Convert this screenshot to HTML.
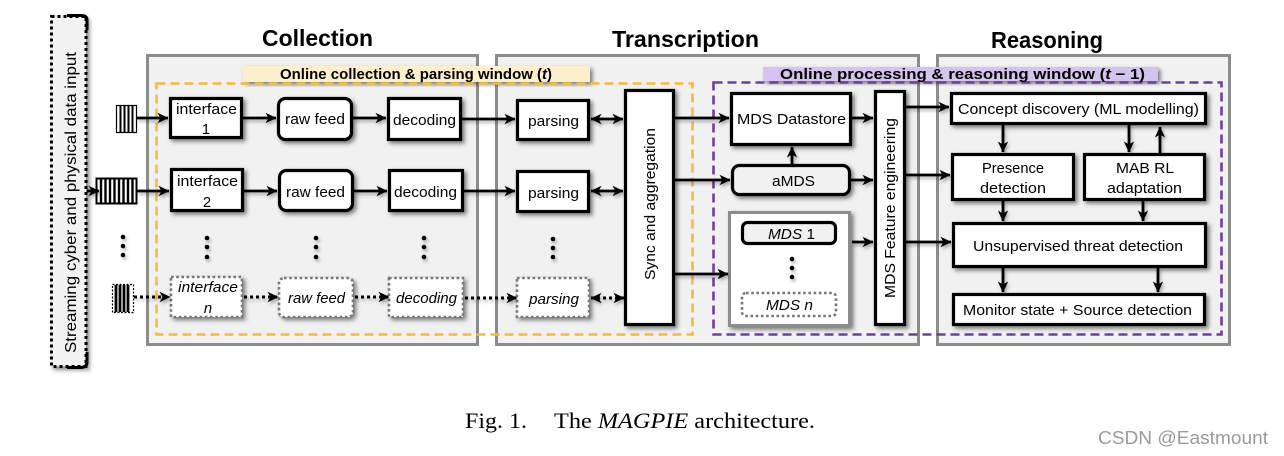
<!DOCTYPE html>
<html><head><meta charset="utf-8"><style>
html,body{margin:0;padding:0;background:#fff}
svg{display:block;filter:blur(.35px)}
text{font-family:"Liberation Sans",sans-serif;fill:#000;font-size:14.8px}
.i{font-style:italic}
.b{fill:#fff;stroke:#000;stroke-width:3.2}
.d{fill:#fff;stroke:#777;stroke-width:2.6;stroke-dasharray:2.6 2.6}
.p{fill:#f1f1f1;stroke:#8c8c8c;stroke-width:3}
.a{stroke:#000;stroke-width:2.8;fill:none;marker-end:url(#h)}
.a2{stroke:#000;stroke-width:2.8;fill:none;marker-end:url(#h);marker-start:url(#h)}
.o{stroke:#000;stroke-width:3;stroke-dasharray:3 3;fill:none;marker-end:url(#h)}
.o2{stroke:#000;stroke-width:3;stroke-dasharray:3 3;fill:none;marker-end:url(#h);marker-start:url(#h)}
.s{filter:url(#sh)}
.s2{filter:url(#sh2)}
.t{font-weight:bold;font-size:23px}
.w{font-weight:bold;font-size:14.5px}
</style></head><body>
<svg xmlns="http://www.w3.org/2000/svg" width="1284" height="456" viewBox="0 0 1284 456">
<defs>
<filter id="sh" x="-20%" y="-20%" width="150%" height="150%"><feDropShadow dx="2.500" dy="2.500" stdDeviation="2" flood-color="#000" flood-opacity=".5"/></filter>
<filter id="sh2" x="-5%" y="-5%" width="110%" height="110%"><feDropShadow dx="1.500" dy="2.500" stdDeviation="1.500" flood-color="#000" flood-opacity=".3"/></filter>
<marker id="h" markerUnits="userSpaceOnUse" markerWidth="14" markerHeight="14" refX="11" refY="7" orient="auto-start-reverse"><path d="M0.500 1.800 L11.500 7 L0.500 12.200 L3.500 7 Z" fill="#000"/></marker>
</defs>
<rect width="1284" height="456" fill="#fff"/>

<!-- stream box -->
<rect x="51.500" y="16.500" width="34.500" height="350" fill="#f2f2f2" stroke="#000" stroke-width="3" stroke-dasharray="3 3" class="s"/>
<path d="M67 15.500H81Q87 15.500 87 20V30M67 367.500H81Q87 367 87 362V352" fill="none" stroke="#000" stroke-width="3"/>
<text transform="translate(76 353) rotate(-90)" textLength="301" lengthAdjust="spacingAndGlyphs" style="font-size:16px">Streaming cyber and physical data input</text>

<!-- panels -->
<rect class="p" x="147.500" y="55.500" width="330" height="289"/>
<rect class="p" x="496.500" y="55.500" width="422" height="289"/>
<rect class="p" x="937.500" y="55.500" width="292" height="289"/>

<text class="t" x="262" y="46" textLength="111" lengthAdjust="spacingAndGlyphs">Collection</text>
<text class="t" x="612" y="47" textLength="147" lengthAdjust="spacingAndGlyphs">Transcription</text>
<text class="t" x="991" y="48" textLength="112" lengthAdjust="spacingAndGlyphs">Reasoning</text>

<!-- window labels -->
<rect x="243" y="66" width="347" height="16" fill="#fbf0cb" class="s"/>
<rect x="763" y="67" width="395" height="14" fill="#d5c2ef" class="s"/>

<!-- dashed windows -->
<rect x="156.500" y="83.500" width="536" height="251" fill="none" stroke="#f5bb3e" stroke-width="2.600" stroke-dasharray="9 5"/>
<rect x="713.500" y="82.500" width="508" height="252" fill="none" stroke="#6f3fa0" stroke-width="2.600" stroke-dasharray="9 5"/>

<text class="w" x="280" y="79" textLength="272" lengthAdjust="spacingAndGlyphs">Online collection &amp; parsing window (<tspan class="i">t</tspan>)</text>
<text class="w" x="780" y="79" textLength="365" lengthAdjust="spacingAndGlyphs">Online processing &amp; reasoning window  (<tspan class="i">t</tspan> − 1)</text>

<!-- queues -->
<g fill="#fff" stroke="#000">
<rect x="116.500" y="105.500" width="20" height="27" stroke-width="1.200"/>
<path d="M120.500 105.500V132.500M124.500 105.500V132.500M128.500 105.500V132.500M132.500 105.500V132.500" stroke-width="2"/>
<rect x="96.500" y="178.500" width="40" height="25" stroke-width="2"/>
<path d="M101 178V204M105.500 178V204M110 178V204M114.500 178V204M119 178V204M123.500 178V204M128 178V204M132.500 178V204" stroke-width="2.400"/>
<rect x="112.500" y="284.500" width="21" height="28" stroke-width="1.200" stroke-dasharray="2 1.500"/>
<path d="M116 285V312M120 285V312M124 285V312M128 285V312" stroke-width="2.800"/>
</g>

<g class="s">
<rect class="b" x="170.500" y="98.500" width="71" height="39"/>
<rect class="b" x="278.500" y="98.500" width="73" height="41" rx="7"/>
<rect class="b" x="388.500" y="98.500" width="72" height="41"/>
<rect class="b" x="517.500" y="100.500" width="71" height="39"/>
<rect class="b" x="171.500" y="169.500" width="71" height="41"/>
<rect class="b" x="279.500" y="170.500" width="73" height="40" rx="7"/>
<rect class="b" x="389.500" y="170.500" width="73" height="40"/>
<rect class="b" x="517.500" y="171.500" width="71" height="40"/>
<rect class="d" x="171" y="277" width="71" height="40"/>
<rect class="d" x="279" y="278" width="74" height="39" rx="5"/>
<rect class="d" x="389" y="278" width="74" height="39"/>
<rect class="d" x="517" y="278" width="72" height="39"/>
<rect class="b" x="625.500" y="90.500" width="48" height="234"/>
<rect class="b" x="731.500" y="93.500" width="119" height="51"/>
<rect x="732.500" y="165.500" width="117" height="29" rx="7" fill="#f1f1f1" stroke="#000" stroke-width="3.200"/>
<rect x="729.500" y="212.500" width="120" height="113" fill="#fff" stroke="#8c8c8c" stroke-width="3"/>
<rect x="742.500" y="222.500" width="93" height="21" rx="5" fill="#f1f1f1" stroke="#000" stroke-width="3.200"/>
<rect class="d" x="742" y="293" width="94" height="23" rx="4"/>
<rect class="b" x="875.500" y="91.500" width="29" height="233"/>
<rect class="b" x="951.500" y="93.500" width="254" height="30"/>
<rect class="b" x="952.500" y="154.500" width="121" height="45"/>
<rect class="b" x="1084.500" y="154.500" width="120" height="45"/>
<rect class="b" x="953.500" y="223.500" width="252" height="43"/>
<rect class="b" x="953.500" y="294.500" width="251" height="30"/>
</g>

<!-- arrows -->
<g class="s2">
<path class="a" d="M137 118H168"/>
<path class="a" d="M243 118H276"/>
<path class="a" d="M353 118H386"/>
<path class="a" d="M462 119H515"/>
<path class="a2" d="M591 119H623"/>
<path class="a" d="M87 191H99"/>
<path class="a" d="M137 191H169"/>
<path class="a" d="M244 191H277"/>
<path class="a" d="M354 191H387"/>
<path class="a" d="M464 191H515"/>
<path class="a2" d="M591 191H623"/>
<path class="o" d="M134 297H170"/>
<path class="o" d="M244 297H278"/>
<path class="o" d="M355 297H389"/>
<path class="o" d="M465 298H517"/>
<path class="o2" d="M591 298H624"/>
<path class="a" d="M675 118H729"/>
<path class="a" d="M675 180H730"/>
<path class="a" d="M675 274H728"/>
<path class="a" d="M792 164V147"/>
<path class="a" d="M852 118H873"/>
<path class="a" d="M851 180H873"/>
<path class="a" d="M852 242H873"/>
<path class="a" d="M906 107H949"/>
<path class="a" d="M906 175H950"/>
<path class="a" d="M906 242H951"/>
<path class="a" d="M1003 125V152"/>
<path class="a" d="M1129 125V152"/>
<path class="a" d="M1160 153V127"/>
<path class="a" d="M1003 201V221"/>
<path class="a" d="M1143 201V221"/>
<path class="a" d="M1003 268V292"/>
<path class="a" d="M1158 268V292"/>

<!-- dots -->
<g fill="#000">
<circle cx="123" cy="237" r="2.300"/><circle cx="123" cy="246" r="2.300"/><circle cx="123" cy="255" r="2.300"/>
<circle cx="207" cy="238" r="2.300"/><circle cx="207" cy="247" r="2.300"/><circle cx="207" cy="257" r="2.300"/>
<circle cx="316" cy="238" r="2.300"/><circle cx="316" cy="247" r="2.300"/><circle cx="316" cy="257" r="2.300"/>
<circle cx="424" cy="238" r="2.300"/><circle cx="424" cy="247" r="2.300"/><circle cx="424" cy="257" r="2.300"/>
<circle cx="553" cy="239" r="2.300"/><circle cx="553" cy="248" r="2.300"/><circle cx="553" cy="257" r="2.300"/>
<circle cx="792" cy="259" r="2.300"/><circle cx="792" cy="268" r="2.300"/><circle cx="792" cy="277" r="2.300"/>
</g>
</g>

<!-- labels -->
<text x="176" y="114" textLength="61" lengthAdjust="spacingAndGlyphs">interface</text>
<text x="206" y="134" text-anchor="middle">1</text>
<text x="285" y="124" textLength="60" lengthAdjust="spacingAndGlyphs">raw feed</text>
<text x="393" y="125" textLength="63" lengthAdjust="spacingAndGlyphs">decoding</text>
<text x="528" y="126" textLength="51" lengthAdjust="spacingAndGlyphs">parsing</text>
<text x="177" y="186" textLength="61" lengthAdjust="spacingAndGlyphs">interface</text>
<text x="207" y="207" text-anchor="middle">2</text>
<text x="286" y="197" textLength="59" lengthAdjust="spacingAndGlyphs">raw feed</text>
<text x="394" y="197" textLength="63" lengthAdjust="spacingAndGlyphs">decoding</text>
<text x="528" y="198" textLength="51" lengthAdjust="spacingAndGlyphs">parsing</text>
<text class="i" x="178" y="292" textLength="60" lengthAdjust="spacingAndGlyphs">interface</text>
<text class="i" x="208" y="313" text-anchor="middle">n</text>
<text class="i" x="288" y="303" textLength="57" lengthAdjust="spacingAndGlyphs">raw feed</text>
<text class="i" x="396" y="303" textLength="61" lengthAdjust="spacingAndGlyphs">decoding</text>
<text class="i" x="529" y="304" textLength="50" lengthAdjust="spacingAndGlyphs">parsing</text>
<text transform="translate(655 280) rotate(-90)" textLength="152" lengthAdjust="spacingAndGlyphs">Sync and aggregation</text>
<text x="737" y="124" textLength="109" lengthAdjust="spacingAndGlyphs">MDS Datastore</text>
<text x="772" y="186" textLength="43" lengthAdjust="spacingAndGlyphs">aMDS</text>
<text x="768" y="239" textLength="47" lengthAdjust="spacingAndGlyphs"><tspan class="i">MDS</tspan> 1</text>
<text class="i" x="766" y="310" textLength="47" lengthAdjust="spacingAndGlyphs">MDS n</text>
<text transform="translate(895 298) rotate(-90)" textLength="180" lengthAdjust="spacingAndGlyphs">MDS Feature engineering</text>
<text x="958" y="114" textLength="241" lengthAdjust="spacingAndGlyphs">Concept discovery (ML modelling)</text>
<text x="982" y="173" textLength="62" lengthAdjust="spacingAndGlyphs">Presence</text>
<text x="980" y="193" textLength="66" lengthAdjust="spacingAndGlyphs">detection</text>
<text x="1116" y="173" textLength="58" lengthAdjust="spacingAndGlyphs">MAB RL</text>
<text x="1107" y="193" textLength="75" lengthAdjust="spacingAndGlyphs">adaptation</text>
<text x="973" y="251" textLength="210" lengthAdjust="spacingAndGlyphs">Unsupervised threat detection</text>
<text x="963" y="315" textLength="229" lengthAdjust="spacingAndGlyphs">Monitor state + Source detection</text>

<!-- caption -->
<text x="465" y="428" textLength="62" lengthAdjust="spacingAndGlyphs" style="font-family:'Liberation Serif',serif;font-size:22px">Fig. 1.</text>
<text x="554" y="428" textLength="261" lengthAdjust="spacingAndGlyphs" style="font-family:'Liberation Serif',serif;font-size:22px">The <tspan class="i">MAGPIE</tspan> architecture.</text>
<text x="1098" y="444" textLength="170" lengthAdjust="spacingAndGlyphs" style="font-size:18px;fill:#9a9a9a">CSDN @Eastmount</text>
</svg>
</body></html>
